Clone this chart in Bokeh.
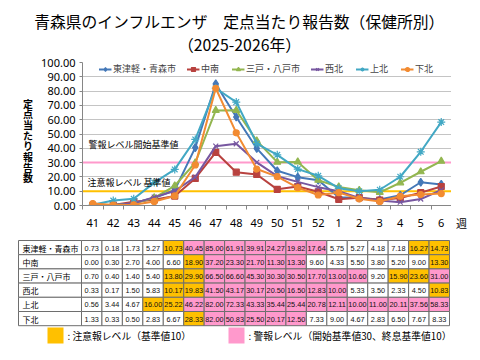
from bokeh.plotting import figure
from bokeh.models import Range1d, FixedTicker, NumeralTickFormatter, Span, Label
from bokeh.layouts import column, row
from bokeh.embed import file_html
from bokeh.resources import INLINE
from bokeh.core.properties import value

# ---------------- data ----------------
weeks = ["41", "42", "43", "44", "45", "46", "47", "48", "49", "50", "51", "52",
         "1", "2", "3", "4", "5", "6"]
series_names = ["東津軽・青森市", "中南", "三戸・八戸市", "西北", "上北", "下北"]
aomori = [0.73, 0.18, 1.73, 5.27, 10.73, 40.45, 85.00, 61.91, 39.91, 24.27, 19.82, 17.64, 5.75, 5.27, 4.18, 7.18, 16.27, 14.73]
chunan = [0.00, 0.30, 2.70, 4.00, 6.60, 18.90, 37.20, 23.30, 21.70, 11.30, 13.30, 9.60, 4.33, 5.50, 3.80, 5.20, 9.00, 13.30]
hachinohe = [0.70, 0.40, 1.40, 5.40, 13.80, 29.90, 66.50, 66.60, 45.30, 30.30, 30.50, 17.70, 13.00, 10.60, 9.20, 15.90, 23.60, 31.00]
seihoku = [0.33, 0.17, 1.50, 5.83, 10.17, 19.83, 41.50, 43.17, 30.17, 20.50, 16.50, 12.83, 10.00, 5.33, 3.50, 2.33, 4.50, 10.83]
kamikita = [0.56, 3.44, 4.67, 16.00, 25.22, 46.22, 82.00, 72.33, 43.33, 35.44, 25.44, 20.78, 12.11, 10.00, 11.00, 20.11, 37.56, 58.33]
shimokita = [1.33, 0.33, 0.50, 2.83, 6.67, 28.33, 82.00, 50.83, 25.50, 20.17, 12.50, 7.33, 9.00, 4.67, 2.83, 6.50, 7.67, 8.33]
series_values = [aomori, chunan, hachinohe, seihoku, kamikita, shimokita]
warning_start = 30
advisory_level = 10

# ---------------- styles / layout (screen px) ----------------
colors = ["#4478B8", "#B8423F", "#93B650", "#7757A0", "#42A8C4", "#F28B32"]
markers = ["diamond", "square", "triangle", "x", "asterisk", "circle"]
msizes = [8, 6, 7, 7, 8, 6]
JP = "Noto Sans CJK JP"
NUM = "Noto Sans"

W = 478
FX0, FX1 = 80, 451          # chart frame left/right
FY_TOP, FY_BOT = 62, 205    # chart frame top/bottom
TOP_H = 56                  # title strip: y 0..56
MID_Y0, MID_H = 56, 180     # chart strip: y 56..236
LEFT_W = 38                 # y-title strip: x 0..38
RIGHT_W = W - FX1           # "週" strip: x 451..478
BOT_Y0, BOT_H = 236, 122    # table strip: y 236..358


def page_fig(x0, y0, w, h):
    f = figure(width=w, height=h, x_range=Range1d(x0, x0 + w), y_range=Range1d(y0 + h, y0),
               output_backend="svg", toolbar_location=None, title=None,
               x_axis_location=None, y_axis_location=None, min_border=0, frame_align=False)
    f.grid.visible = False
    f.outline_line_color = None
    return f


# ---------------- title strip ----------------
tf = page_fig(0, 0, W, TOP_H)
tf.text(x=[239, 239], y=[21, 43.5],
        text=["青森県のインフルエンザ　定点当たり報告数（保健所別）", "（2025-2026年）"],
        text_font=value(JP), text_font_size="15.8px", text_align="center", text_baseline="middle",
        text_color="black")

# ---------------- y-title strip (frame matches the chart frame vertically) ----------------
yt = figure(width=LEFT_W, height=MID_H, x_range=Range1d(0, LEFT_W), y_range=Range1d(FY_BOT, FY_TOP),
            output_backend="svg", toolbar_location=None, title=None,
            x_axis_location=None, y_axis_location=None, frame_align=False,
            min_border_left=0, min_border_right=0,
            min_border_top=FY_TOP - MID_Y0, min_border_bottom=MID_H - (FY_BOT - MID_Y0))
yt.grid.visible = False
yt.outline_line_color = None
ytitle = "定点当たり報告数"
yt.text(x=[27.5] * len(ytitle), y=[102.5 + 10.7 * i for i in range(len(ytitle))], text=list(ytitle),
        text_font=value(JP), text_font_size="10px", text_font_style="bold",
        text_align="center", text_baseline="middle", text_color="black")

# ---------------- chart ----------------
CW = FX1 - LEFT_W
p = figure(width=CW, height=MID_H, x_range=Range1d(-0.5, len(weeks) - 0.5), y_range=Range1d(0, 100),
           output_backend="svg", toolbar_location=None, title=None, frame_align=False,
           min_border_left=FX0 - LEFT_W, min_border_right=0,
           min_border_top=FY_TOP - MID_Y0, min_border_bottom=MID_H - (FY_BOT - MID_Y0))
p.outline_line_color = None

xs = list(range(len(weeks)))
p.xaxis.ticker = FixedTicker(ticks=xs, minor_ticks=[i - 0.5 for i in range(len(weeks) + 1)])
p.xaxis.major_label_overrides = {i: w for i, w in enumerate(weeks)}
p.xaxis.major_tick_out = 0
p.xaxis.major_tick_in = 0
p.xaxis.minor_tick_out = 4
p.xaxis.minor_tick_in = 0
p.xaxis.minor_tick_line_color = "#868686"
p.xaxis.axis_line_color = "#868686"
p.xaxis.major_label_standoff = 9
p.xaxis.major_label_text_font = NUM
p.xaxis.major_label_text_font_size = "11px"
p.xaxis.major_label_text_color = "black"

p.yaxis.ticker = FixedTicker(ticks=list(range(0, 101, 10)), minor_ticks=[])
p.yaxis.formatter = NumeralTickFormatter(format="0.00")
p.yaxis.major_tick_out = 3
p.yaxis.major_tick_in = 0
p.yaxis.major_tick_line_color = "#868686"
p.yaxis.axis_line_color = "#868686"
p.yaxis.major_label_standoff = 4
p.yaxis.major_label_text_font = NUM
p.yaxis.major_label_text_font_size = "11px"
p.yaxis.major_label_text_color = "black"

p.xgrid.visible = False
p.ygrid.grid_line_color = "#C4C4C4"

p.add_layout(Span(location=warning_start, dimension="width", line_color="#FF99CC", line_width=2, level="underlay"))
p.add_layout(Span(location=advisory_level, dimension="width", line_color="#FFC000", line_width=2, level="underlay"))

for name, vals, c, m, s in zip(series_names, series_values, colors, markers, msizes):
    p.line(xs, vals, line_color=c, line_width=2, legend_label=name)
    p.scatter(xs, vals, marker=m, size=s, fill_color=c, line_color=c, line_width=1.2, legend_label=name)

lg = p.legend[0]
lg.orientation = "horizontal"
lg.location = "top_center"
lg.margin = 0
lg.padding = 0
lg.spacing = 10
lg.glyph_width = 13
lg.glyph_height = 10
lg.label_standoff = 2
lg.label_text_font = JP
lg.label_text_font_size = "9px"
lg.label_height = 12
lg.background_fill_alpha = 0
lg.border_line_color = None


def cx(px):
    return -0.5 + (px - FX0) / (FX1 - FX0) * len(weeks)


def cy(py):
    return (FY_BOT - py) / (FY_BOT - FY_TOP) * 100.0


p.add_layout(Label(x=cx(86), y=cy(144), text="警報レベル開始基準値", text_font=JP,
                   text_font_size="9px", text_baseline="middle", text_align="left", text_color="black"))
p.add_layout(Label(x=cx(85), y=cy(182), text="注意報レベル 基準値", text_font=JP,
                   text_font_size="9px", text_baseline="middle", text_align="left", text_color="black"))

# ---------------- "週" strip ----------------
wk = page_fig(FX1, MID_Y0, RIGHT_W, MID_H)
wk.text(x=[461], y=[222], text=["週"], text_font=value(JP), text_font_size="11px",
        text_align="center", text_baseline="middle", text_color="black")

# ---------------- table strip ----------------
t = page_fig(0, BOT_Y0, W, BOT_H)

TL, TLC, TR = 18, 81, 449
TT, RH = 240, 14.2
cw = (TR - TLC) / len(weeks)


def level_colors(vals):
    out = []
    alarm = False
    for v in vals:
        if alarm:
            if v < advisory_level:
                alarm = False
                out.append("white")
            else:
                out.append("#FF99CC")
        else:
            if v >= warning_start:
                alarm = True
                out.append("#FF99CC")
            elif v >= advisory_level:
                out.append("#FFC000")
            else:
                out.append("white")
    return out


L, R, T, B, F = [], [], [], [], []
txx, tyy, tss = [], [], []
lx, ly, ls = [], [], []
for r, (name, vals) in enumerate(zip(series_names, series_values)):
    top = TT + RH * r
    L.append(TL); R.append(TLC); T.append(top); B.append(top + RH); F.append("white")
    lx.append(TL + 4); ly.append(top + RH / 2 + 0.5); ls.append(name)
    for c, (v, col) in enumerate(zip(vals, level_colors(vals))):
        L.append(TLC + cw * c); R.append(TLC + cw * (c + 1)); T.append(top); B.append(top + RH); F.append(col)
        txx.append(TLC + cw * (c + 0.5)); tyy.append(top + RH / 2 + 0.5); tss.append(f"{v:.2f}")

t.quad(left=L, right=R, top=T, bottom=B, fill_color=F, line_color="#6E6E6E", line_width=1)
t.text(x=lx, y=ly, text=ls, text_font=value(JP), text_font_size="8px", text_align="left",
       text_baseline="middle", text_color="black")
t.text(x=txx, y=tyy, text=tss, text_font=value("Liberation Sans"), text_font_size="7.3px",
       text_align="center", text_baseline="middle", text_color="#111111")

# bottom legend
t.quad(left=[47, 228], right=[63, 244], top=[327, 327], bottom=[343, 343],
       fill_color=["#FFC000", "#FF99CC"], line_color=None)
t.text(x=[67, 248], y=[335, 335], text=[": 注意報レベル（基準値10）", ": 警報レベル（開始基準値30、終息基準値10）"],
       text_font=value(JP), text_font_size="9.8px", text_align="left", text_baseline="middle",
       text_color="black")

layout = column(tf, row(yt, p, wk, spacing=0), t, spacing=0)
open("out.html", "w").write(file_html(layout, INLINE))
